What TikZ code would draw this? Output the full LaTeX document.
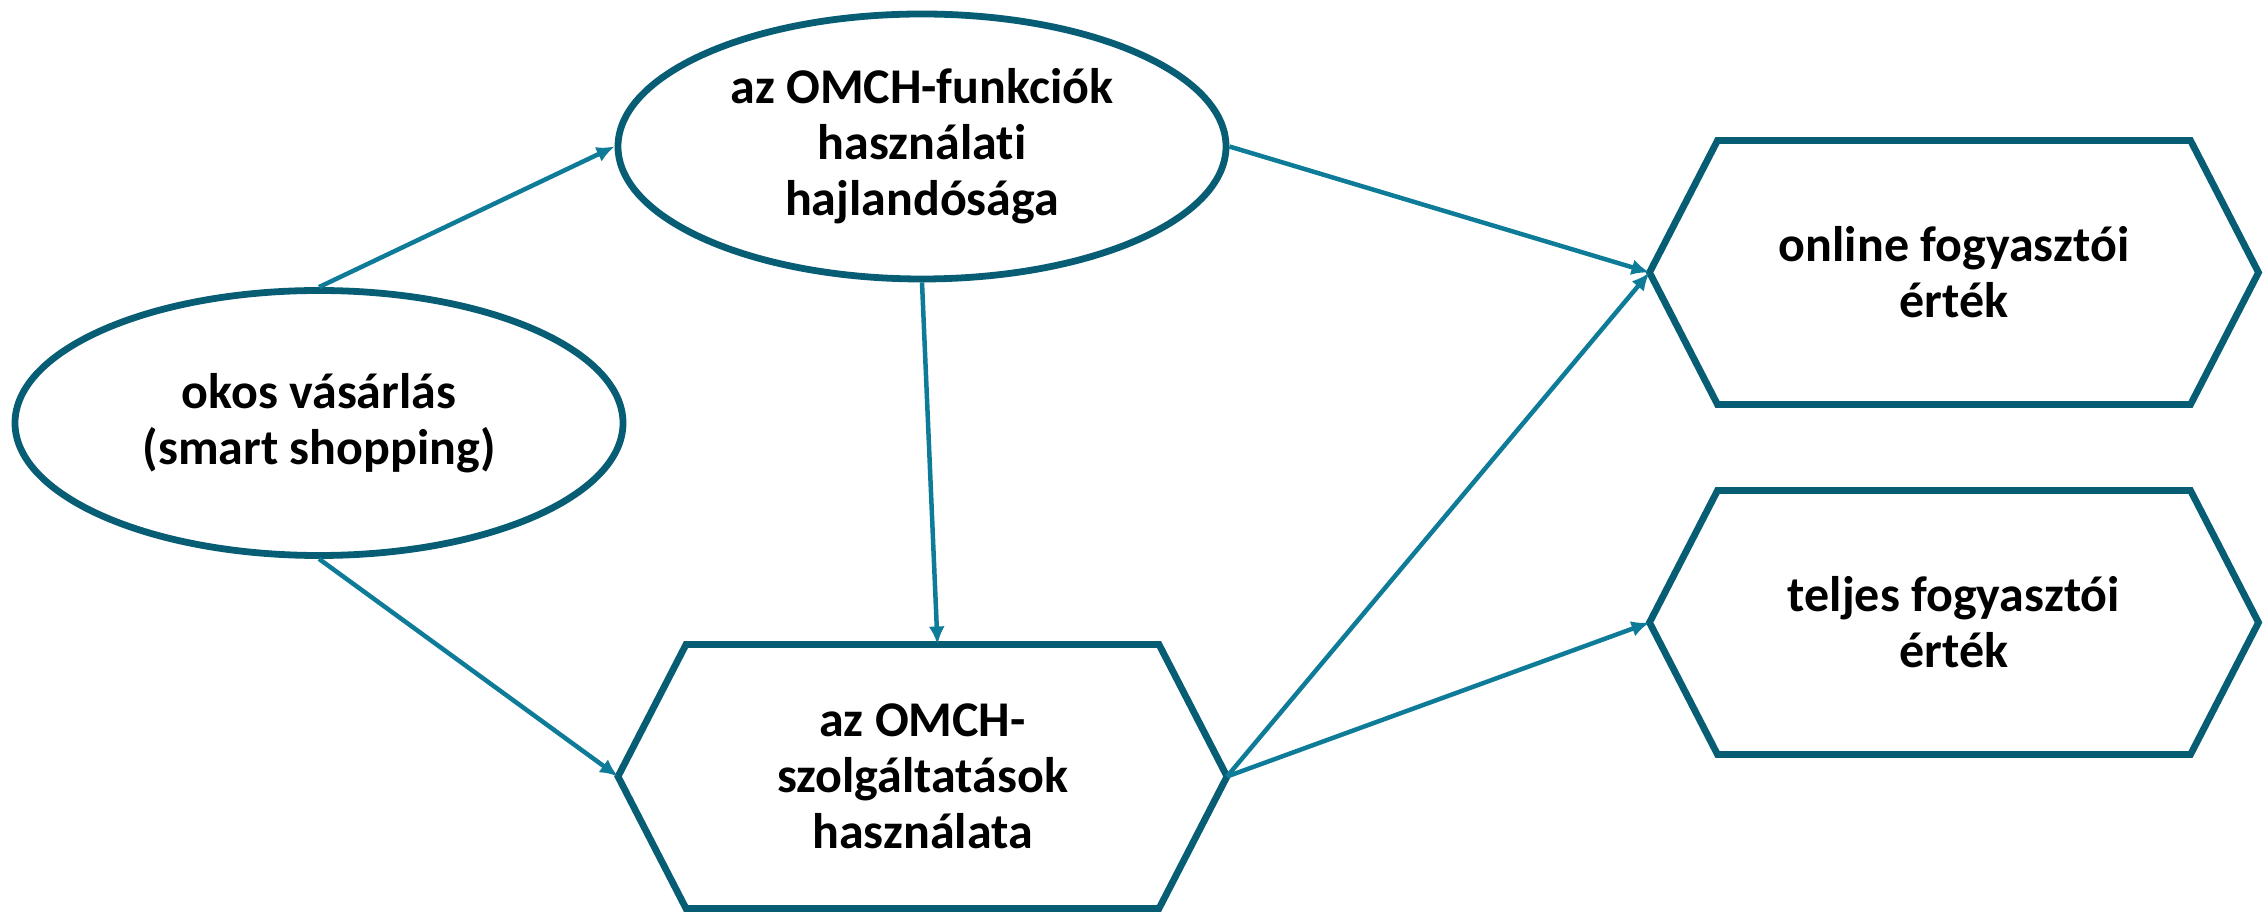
\documentclass[tikz,border=0pt]{standalone}
\usepackage{fontspec}
\setmainfont{Carlito}[Ligatures=NoCommon]
\usetikzlibrary{shapes.geometric,arrows.meta,calc}
\definecolor{framecol}{HTML}{075E74}
\definecolor{linkcol}{HTML}{0E7C99}

% outline of a hexagon with pointed left and right ends, fitted to a box node
\newcommand\hexoutline[1]{%
  \draw[framecol, line width=3.4pt]
    (#1.west) -- ($(#1.north west)+(68,0)$) -- ($(#1.north east)+(-68,0)$)
    -- (#1.east) -- ($(#1.south east)+(-68,0)$) -- ($(#1.south west)+(68,0)$)
    -- cycle;}

\begin{document}
\begin{tikzpicture}[x=0.5pt,y=-0.5pt,
  txt/.style={font=\bfseries\fontsize{25}{28}\selectfont, align=center, text=black},
  oval/.style={txt, ellipse, draw=framecol, line width=3.4pt, inner sep=0pt,
    minimum width=304pt, minimum height=132.5pt},
  hexbox/.style={txt, rectangle, inner sep=0pt, outer sep=0pt,
    minimum width=304.5pt, minimum height=132pt},
  arrowlink/.style={draw=linkcol, line width=2.25pt, -{Latex[length=9pt,width=8pt]}}]

\useasboundingbox (0,0) rectangle (2263,913);

% ovals
\node[oval] (smart) at (319,423) {okos vásárlás\\(smart shopping)};
\node[oval] (func)  at (922,146.5) {az OMCH-funkciók\\használati\\hajlandósága};

% hexagonal boxes
\node[hexbox] (use)    at (922.5,776.5) {az OMCH-\\szolgáltatások\\használata};
\node[hexbox] (online) at (1954,272.5) {online fogyasztói\\érték};
\node[hexbox] (total)  at (1954,622.5) {teljes fogyasztói\\érték};
\hexoutline{use}
\hexoutline{online}
\hexoutline{total}

% connectors
\draw[arrowlink] (smart.north) -- (func.west);
\draw[arrowlink] (smart.south) -- (use.west);
\draw[arrowlink] (func.south) -- ([xshift=7.5pt]use.north);
\draw[arrowlink] (func.east) -- (online.west);
\draw[arrowlink] (use.east) -- (online.west);
\draw[arrowlink] (use.east) -- (total.west);
\end{tikzpicture}
\end{document}
